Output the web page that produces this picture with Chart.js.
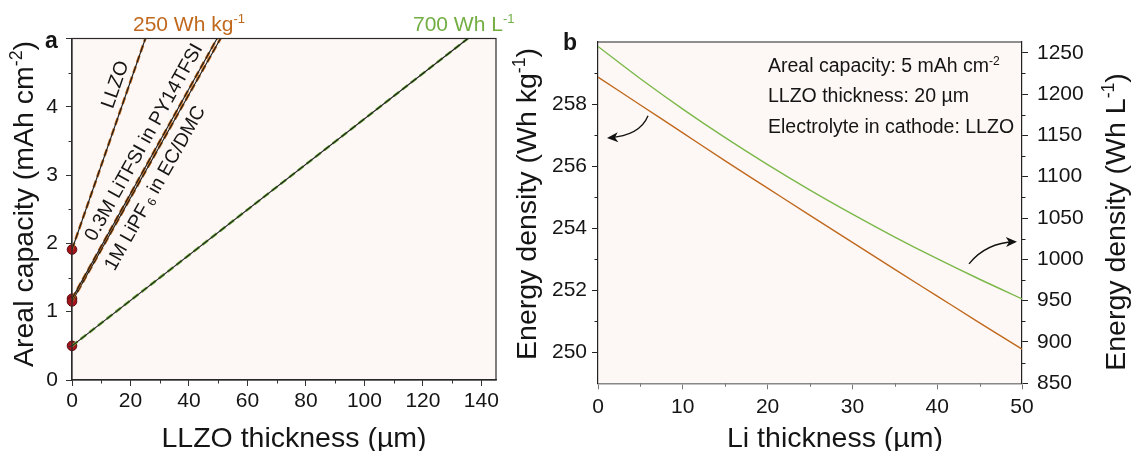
<!DOCTYPE html>
<html><head><meta charset="utf-8">
<script src="https://cdn.jsdelivr.net/npm/chart.js@4.4.1/dist/chart.umd.min.js"></script>
<style>
html,body{margin:0;padding:0;background:#fff;}
#wrap{position:relative;width:1131px;height:451px;overflow:hidden;}
canvas{position:absolute;left:0;top:0;}
</style></head><body>
<div id="wrap"><canvas id="ca" width="1131" height="451"></canvas><canvas id="cb" width="1131" height="451"></canvas></div>
<script>
// ---------- Panel a data ----------
const aLineLabels = ['LLZO', '0.3M LiTFSI in PY14TFSI', '1M LiPF6 in EC/DMC', '700 Wh L-1'];
const aStartThickness = [0, 0, 0, 0];
const aStartCapacity = [1.91, 1.19, 1.15, 0.50];
const aEndThickness = [25.1, 49.6, 50.8, 135.4];
const aEndCapacity = [5, 5, 5, 5];
const aXTicks = [0, 20, 40, 60, 80, 100, 120, 140];
const aXMinor = [10, 30, 50, 70, 90, 110, 130];
const aYTicks = [0, 1, 2, 3, 4, 5];
const aYMinor = [0.5, 1.5, 2.5, 3.5, 4.5];

// ---------- Panel b data ----------
const bLiThickness = [0, 5, 10, 15, 20, 25, 30, 35, 40, 45, 50];
const bGravimetric = [258.87, 257.97, 257.07, 256.17, 255.29, 254.41, 253.54, 252.67, 251.81, 250.95, 250.10];
const bVolumetric = [1257.6, 1218.5, 1181.8, 1147.2, 1114.6, 1083.8, 1054.7, 1027.0, 1000.8, 975.9, 952.2];
const bXTicks = [0, 10, 20, 30, 40, 50];
const bXMinor = [5, 15, 25, 35, 45];
const bYLeftTicks = [250, 252, 254, 256, 258];
const bYLeftMinor = [251, 253, 255, 257, 259];
const bYRightTicks = [850, 900, 950, 1000, 1050, 1100, 1150, 1200, 1250];
const bYRightMinor = [875, 925, 975, 1025, 1075, 1125, 1175, 1225];

const FONT = '"Liberation Sans", Arial, Helvetica, sans-serif';
const ORANGE = '#c0691e';
const GREEN = '#72ae42';
const BG = '#fdf8f5';
const INK = '#151515';

function drawRich(ctx, parts, x, y, size, o) {
  o = o || {};
  ctx.save();
  ctx.translate(x, y);
  if (o.rot) ctx.rotate(o.rot);
  ctx.fillStyle = o.color || INK;
  ctx.textBaseline = o.baseline || 'alphabetic';
  ctx.textAlign = 'left';
  const w8 = o.bold ? 'bold ' : '';
  let total = 0;
  const seg = parts.map(p => {
    const kind = p[1] || 'n';
    const fs = kind === 'n' ? size : size * 0.62;
    ctx.font = w8 + fs + 'px ' + FONT;
    const w = ctx.measureText(p[0]).width;
    total += w;
    return {t: p[0], kind, fs, w};
  });
  let cx = o.align === 'center' ? -total / 2 : 0;
  seg.forEach(s => {
    ctx.font = w8 + s.fs + 'px ' + FONT;
    const dy = s.kind === 'sup' ? -size * 0.38 : (s.kind === 'sub' ? size * 0.22 : 0);
    ctx.fillText(s.t, cx, dy);
    cx += s.w;
  });
  ctx.restore();
}

function minorTicks(ctx, scale, values, side, len, color) {
  ctx.save();
  ctx.strokeStyle = color; ctx.lineWidth = 1;
  ctx.beginPath();
  values.forEach(v => {
    const p = Math.round(scale.getPixelForValue(v)) + 0.5;
    if (side === 'bottom') { ctx.moveTo(p, scale.top); ctx.lineTo(p, scale.top + len); }
    if (side === 'left') { ctx.moveTo(scale.right - len, p); ctx.lineTo(scale.right, p); }
    if (side === 'right') { ctx.moveTo(scale.left, p); ctx.lineTo(scale.left + len, p); }
  });
  ctx.stroke();
  ctx.restore();
}

function arrow(ctx, s, c, e) {
  ctx.save();
  ctx.strokeStyle = '#111'; ctx.fillStyle = '#111'; ctx.lineWidth = 1.3;
  ctx.beginPath(); ctx.moveTo(s[0], s[1]); ctx.quadraticCurveTo(c[0], c[1], e[0], e[1]); ctx.stroke();
  const ang = Math.atan2(e[1] - c[1], e[0] - c[0]);
  ctx.translate(e[0], e[1]); ctx.rotate(ang);
  ctx.beginPath(); ctx.moveTo(2, 0); ctx.lineTo(-9, -5); ctx.lineTo(-6, 0); ctx.lineTo(-9, 5); ctx.closePath(); ctx.fill();
  ctx.restore();
}

const bgPlugin = {
  id: 'bgfill',
  beforeDraw(chart) {
    const a = chart.chartArea, ctx = chart.ctx;
    ctx.save(); ctx.fillStyle = BG; ctx.fillRect(a.left, a.top, a.right - a.left, a.bottom - a.top); ctx.restore();
  }
};

// ---------- Panel a ----------
const aDatasets = [];
const drawOrder = [3, 0, 1, 2];
drawOrder.forEach(i => {
  const pts = [{x: aStartThickness[i], y: aStartCapacity[i]}, {x: aEndThickness[i], y: aEndCapacity[i]}];
  const col = i === 3 ? GREEN : ORANGE;
  aDatasets.push({type: 'line', label: aLineLabels[i] + ' base', data: pts, borderColor: '#1a1a1a', borderWidth: 1.1, pointRadius: 0, fill: false});
  aDatasets.push({type: 'line', label: aLineLabels[i], data: pts, borderColor: col, borderWidth: 2.6, borderDash: [7, 4], pointRadius: 0, fill: false});
});
aDatasets.push({
  type: 'scatter', label: 'start points',
  data: aStartCapacity.map((c, i) => ({x: aStartThickness[i], y: c})),
  pointRadius: 4.8, pointBackgroundColor: '#a5141c', pointBorderColor: '#5a090d', pointBorderWidth: 1, clip: false
});

const aPlugin = {
  id: 'aDeco',
  afterDraw(chart) {
    const ctx = chart.ctx, a = chart.chartArea, xs = chart.scales.x, ys = chart.scales.y;
    ctx.save(); ctx.strokeStyle = '#2a2a2a'; ctx.lineWidth = 1.2;
    ctx.strokeRect(a.left, a.top, a.right - a.left, a.bottom - a.top); ctx.restore();
    minorTicks(ctx, xs, aXMinor, 'bottom', 3.5, '#333');
    minorTicks(ctx, ys, aYMinor, 'left', 3.5, '#333');
    drawRich(ctx, [['Areal capacity (mAh cm'], ['-2', 'sup'], [')']], 33, 204, 28.5, {rot: -Math.PI / 2, align: 'center'});
    drawRich(ctx, [['LLZO thickness (µm)']], 294, 447, 28.5, {align: 'center'});
    drawRich(ctx, [['a']], 45, 48, 23, {bold: true});
    drawRich(ctx, [['250 Wh kg'], ['-1', 'sup']], 133, 31, 21, {color: ORANGE});
    drawRich(ctx, [['700 Wh L'], ['-1', 'sup']], 413, 31, 21, {color: GREEN});
    const lbl = [
      {i: 0, f: 0.761, off: -13, parts: [['LLZO']]},
      {i: 1, f: 0.576, off: -13, parts: [['0.3M LiTFSI in PY14TFSI']]},
      {i: 2, f: 0.462, off: 17, parts: [['1M LiPF'], [' 6', 'sub'], [' in EC/DMC']]}
    ];
    lbl.forEach(L => {
      const x0 = xs.getPixelForValue(aStartThickness[L.i]), y0 = ys.getPixelForValue(aStartCapacity[L.i]);
      const x1 = xs.getPixelForValue(aEndThickness[L.i]), y1 = ys.getPixelForValue(aEndCapacity[L.i]);
      const ang = Math.atan2(y1 - y0, x1 - x0);
      const px = x0 + (x1 - x0) * L.f, py = y0 + (y1 - y0) * L.f;
      const nx = -Math.sin(ang), ny = Math.cos(ang);
      drawRich(ctx, L.parts, px + nx * L.off, py + ny * L.off, 19.5, {rot: ang, align: 'center', baseline: 'middle'});
    });
  }
};

new Chart(document.getElementById('ca'), {
  data: {datasets: aDatasets},
  options: {
    responsive: false, animation: false, events: [],
    layout: {padding: {left: 0, right: 635, top: 38.5, bottom: 0}},
    plugins: {legend: {display: false}, tooltip: {enabled: false}},
    scales: {
      x: {
        type: 'linear', min: 0, max: 145,
        afterBuildTicks: s => { s.ticks = aXTicks.map(v => ({value: v})); },
        afterFit: s => { s.height = 71; },
        grid: {drawOnChartArea: false, tickLength: 6, color: '#333', tickColor: '#333'},
        border: {color: '#2a2a2a', width: 1.2},
        ticks: {font: {family: FONT, size: 21}, color: INK, padding: 3, maxRotation: 0, callback: v => String(v)}
      },
      y: {
        type: 'linear', min: 0, max: 5,
        afterBuildTicks: s => { s.ticks = aYTicks.map(v => ({value: v})); },
        afterFit: s => { s.width = 72; },
        grid: {drawOnChartArea: false, tickLength: 6, color: '#333', tickColor: '#333'},
        border: {color: '#2a2a2a', width: 1.2},
        ticks: {font: {family: FONT, size: 21}, color: INK, padding: 8, callback: v => (v === 5 ? '' : String(v))}
      }
    }
  },
  plugins: [bgPlugin, aPlugin]
});

// ---------- Panel b ----------
const bPlugin = {
  id: 'bDeco',
  afterDraw(chart) {
    const ctx = chart.ctx, a = chart.chartArea, xs = chart.scales.x, yl = chart.scales.y, yr = chart.scales.y2;
    ctx.save(); ctx.strokeStyle = '#222'; ctx.lineWidth = 1.2;
    ctx.beginPath(); ctx.moveTo(a.left, a.top); ctx.lineTo(a.right, a.top); ctx.stroke(); ctx.restore();
    minorTicks(ctx, xs, bXMinor, 'bottom', 3.5, '#777');
    minorTicks(ctx, yl, bYLeftMinor, 'left', 3.5, '#222');
    minorTicks(ctx, yr, bYRightMinor, 'right', 3.5, '#222');
    drawRich(ctx, [['Energy density (Wh kg'], ['-1', 'sup'], [')']], 536, 204, 28.5, {rot: -Math.PI / 2, align: 'center'});
    drawRich(ctx, [['Energy density (Wh L'], ['-1', 'sup'], [')']], 1125, 222, 28.5, {rot: -Math.PI / 2, align: 'center'});
    drawRich(ctx, [['Li thickness (µm)']], 835, 447, 28.5, {align: 'center'});
    drawRich(ctx, [['b']], 563, 50, 23, {bold: true});
    drawRich(ctx, [['Areal capacity: 5 mAh cm'], ['-2', 'sup']], 768, 72, 19.5);
    drawRich(ctx, [['LLZO thickness: 20 µm']], 768, 102, 19.5);
    drawRich(ctx, [['Electrolyte in cathode: LLZO']], 768, 133, 19.5);
    const P = (x, y, s) => [xs.getPixelForValue(x), s.getPixelForValue(y)];
    arrow(ctx, P(5.90, 257.62, yl), P(4.95, 256.98, yl), P(1.30, 256.91, yl));
    arrow(ctx, P(43.75, 994.6, yr), P(45.75, 1020.1, yr), P(49.17, 1021.3, yr));
  }
};

new Chart(document.getElementById('cb'), {
  type: 'line',
  data: {
    labels: bLiThickness,
    datasets: [
      {label: 'Gravimetric energy density', data: bLiThickness.map((x, i) => ({x, y: bGravimetric[i]})), yAxisID: 'y', borderColor: ORANGE, borderWidth: 1.4, pointRadius: 0, cubicInterpolationMode: 'monotone', fill: false},
      {label: 'Volumetric energy density', data: bLiThickness.map((x, i) => ({x, y: bVolumetric[i]})), yAxisID: 'y2', borderColor: '#7cb84a', borderWidth: 1.4, pointRadius: 0, cubicInterpolationMode: 'monotone', fill: false}
    ]
  },
  options: {
    responsive: false, animation: false, events: [],
    layout: {padding: {left: 0, right: 0, top: 42, bottom: 0}},
    plugins: {legend: {display: false}, tooltip: {enabled: false}},
    scales: {
      x: {
        type: 'linear', min: 0, max: 50,
        afterBuildTicks: s => { s.ticks = bXTicks.map(v => ({value: v})); },
        afterFit: s => { s.height = 67.7; },
        grid: {drawOnChartArea: false, tickLength: 6, color: '#777', tickColor: '#777'},
        border: {color: '#888', width: 1.5},
        ticks: {font: {family: FONT, size: 21}, color: INK, padding: 5, maxRotation: 0, callback: v => String(v)}
      },
      y: {
        type: 'linear', position: 'left', min: 249, max: 260,
        afterBuildTicks: s => { s.ticks = bYLeftTicks.map(v => ({value: v})); },
        afterFit: s => { s.width = 598; },
        grid: {drawOnChartArea: false, tickLength: 6, color: '#222', tickColor: '#222'},
        border: {color: '#222', width: 1.2},
        ticks: {font: {family: FONT, size: 21}, color: INK, padding: 5, callback: v => String(v)}
      },
      y2: {
        type: 'linear', position: 'right', min: 850, max: 1263,
        afterBuildTicks: s => { s.ticks = bYRightTicks.map(v => ({value: v})); },
        afterFit: s => { s.width = 109; },
        grid: {drawOnChartArea: false, tickLength: 6, color: '#222', tickColor: '#222'},
        border: {color: '#222', width: 1.2},
        ticks: {font: {family: FONT, size: 21}, color: INK, padding: 9, callback: v => String(v)}
      }
    }
  },
  plugins: [bgPlugin, bPlugin]
});
</script>
</body></html>
